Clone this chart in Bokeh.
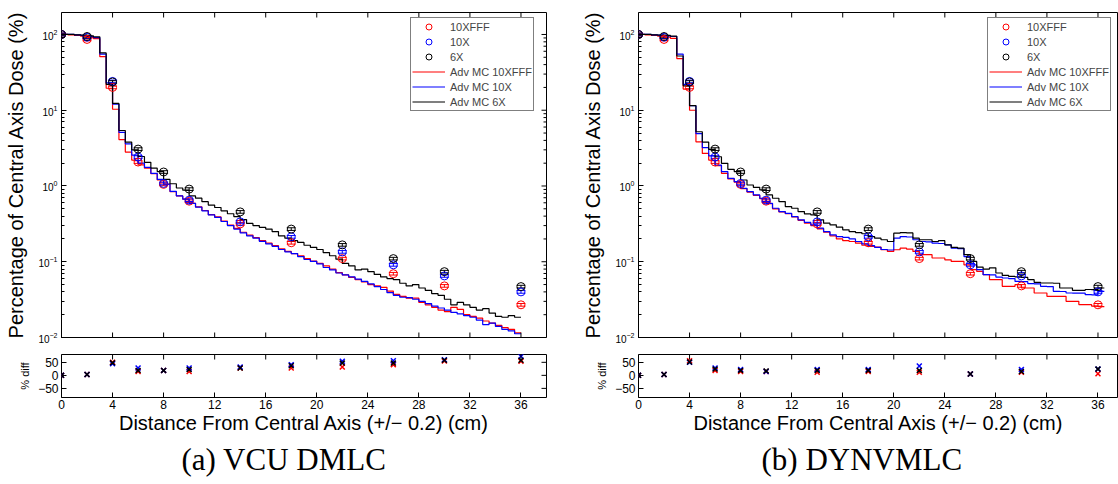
import numpy as np
from bokeh.plotting import figure
from bokeh.models import (ColumnDataSource, Whisker, TeeHead, Legend, LegendItem,
                          FixedTicker, Range1d, Title)
from bokeh.layouts import row, column
from bokeh.embed import file_html
from bokeh.resources import INLINE

FONT = "Liberation Sans"
SERIF = "Liberation Serif"
RED, BLUE, BLACK = "#ff0000", "#0000ff", "#000000"

# ---------------- data ----------------
x_ticks = [0, 4, 8, 12, 16, 20, 24, 28, 32, 36]
x_meas = [0, 2, 4, 6, 8, 10, 14, 18, 22, 26, 30, 36]
meas_10xfff = [100, 86, 20, 2.07, 1.05, 0.63, 0.316, 0.178, 0.11, 0.0695, 0.048, 0.027]
meas_10x = [100, 92, 24, 2.41, 1.08, 0.65, 0.336, 0.213, 0.135, 0.091, 0.065, 0.040]
meas_6x = [100, 94, 23.6, 3.07, 1.53, 0.91, 0.455, 0.27, 0.167, 0.11, 0.074, 0.047]
meas_rel_err = 0.04

bin_width = 0.5  # MC histogram bins (cm), starting at 0

# (a) VCU DMLC  Monte Carlo
mc_a_10xfff = [100, 99, 97, 95, 91, 88, 51, 19.5, 10.3, 4.1,
               2.8, 2.2, 1.9, 1.72, 1.45, 1.2, 1.05, 0.84, 0.74, 0.67,
               0.59, 0.53, 0.475, 0.42, 0.39, 0.345, 0.305, 0.275, 0.245, 0.225,
               0.208, 0.19, 0.176, 0.163, 0.148, 0.137, 0.128, 0.12, 0.11, 0.102,
               0.095, 0.088, 0.08, 0.072, 0.067, 0.062, 0.058, 0.054, 0.05, 0.048,
               0.046, 0.041, 0.037, 0.035, 0.033, 0.033, 0.029, 0.027, 0.025, 0.023,
               0.022, 0.025, 0.0235, 0.02, 0.019, 0.018, 0.0165, 0.0155, 0.0145, 0.0135,
               0.0128, 0.0115]
mc_a_10x = [100, 100, 99, 97, 94, 91, 55, 23, 12, 5.1,
            3.6, 2.55, 2.0, 1.76, 1.47, 1.22, 1.06, 0.85, 0.74, 0.67,
            0.59, 0.525, 0.47, 0.415, 0.385, 0.34, 0.30, 0.27, 0.24, 0.22,
            0.205, 0.186, 0.172, 0.16, 0.145, 0.135, 0.128, 0.117, 0.107, 0.101,
            0.094, 0.084, 0.078, 0.071, 0.067, 0.063, 0.059, 0.055, 0.051, 0.047,
            0.043, 0.039, 0.036, 0.034, 0.0335, 0.032, 0.030, 0.028, 0.026, 0.0245,
            0.023, 0.0215, 0.0205, 0.0195, 0.0185, 0.017, 0.0148, 0.0155, 0.014, 0.0128,
            0.0122, 0.0112]
mc_a_6x = [100, 100, 99, 98, 96, 93, 57, 22, 12.3, 5.4,
           3.8, 3.0, 2.45, 2.05, 1.72, 1.55, 1.22, 1.07, 0.94, 0.88,
           0.74, 0.69, 0.62, 0.56, 0.52, 0.47, 0.43, 0.395, 0.36, 0.32,
           0.30, 0.285, 0.27, 0.25, 0.22, 0.205, 0.19, 0.18, 0.165, 0.155,
           0.145, 0.132, 0.12, 0.108, 0.095, 0.088, 0.078, 0.08, 0.074, 0.068,
           0.063, 0.06, 0.058, 0.052, 0.048, 0.05, 0.045, 0.042, 0.038, 0.036,
           0.032, 0.027, 0.029, 0.027, 0.025, 0.023, 0.024, 0.021, 0.019, 0.0185,
           0.0195, 0.0185]

# (b) DYNVMLC  Monte Carlo
mc_b_10xfff = [100, 99, 97, 95, 92, 89, 48, 19, 10, 3.83,
               2.69, 2.2, 1.85, 1.47, 1.24, 1.12, 0.92, 0.83, 0.75, 0.68,
               0.585, 0.5, 0.455, 0.43, 0.39, 0.352, 0.323, 0.3, 0.272, 0.245,
               0.22, 0.2, 0.19, 0.185, 0.176, 0.165, 0.16, 0.156, 0.144, 0.137,
               0.144, 0.151, 0.147, 0.137, 0.124, 0.124, 0.112, 0.112, 0.106, 0.101,
               0.101, 0.091, 0.0785, 0.0746, 0.0675, 0.058, 0.058, 0.0473, 0.0473, 0.0498,
               0.045, 0.045, 0.0387, 0.0387, 0.035, 0.035, 0.035, 0.030, 0.030, 0.0272,
               0.0272, 0.026, 0.0255]
mc_b_10x = [100, 100, 99, 98, 96, 94, 55, 22, 11.5, 4.9,
            3.2, 2.5, 1.89, 1.55, 1.26, 1.14, 0.93, 0.84, 0.762, 0.689,
            0.591, 0.508, 0.459, 0.436, 0.394, 0.357, 0.33, 0.307, 0.277, 0.25,
            0.226, 0.215, 0.21, 0.2, 0.185, 0.172, 0.163, 0.155, 0.145, 0.143,
            0.205, 0.215, 0.212, 0.195, 0.185, 0.183, 0.176, 0.174, 0.167, 0.151,
            0.149, 0.117, 0.091, 0.0785, 0.0675, 0.067, 0.0628, 0.061, 0.06, 0.055,
            0.0545, 0.0513, 0.051, 0.0473, 0.047, 0.0407, 0.0405, 0.0387, 0.0385, 0.0385,
            0.0368, 0.0366, 0.0407]
mc_b_6x = [100, 100, 99, 98, 97, 95, 52, 21, 11.5, 5.2,
           3.8, 3.04, 2.43, 1.99, 1.66, 1.55, 1.2, 1.03, 0.96, 0.886,
           0.762, 0.689, 0.622, 0.535, 0.508, 0.459, 0.428, 0.415, 0.357, 0.323,
           0.307, 0.286, 0.264, 0.25, 0.243, 0.234, 0.215, 0.205, 0.195, 0.185,
           0.238, 0.243, 0.24, 0.205, 0.195, 0.195, 0.185, 0.19, 0.167, 0.155,
           0.151, 0.124, 0.101, 0.085, 0.08, 0.083, 0.071, 0.066, 0.064, 0.063,
           0.062, 0.058, 0.0535, 0.0524, 0.0524, 0.052, 0.045, 0.045, 0.042, 0.042,
           0.043, 0.0428, 0.045]

# % diff panels
diff_a_10xfff = [0, 3, 50, 15, 19, 15, 28, 28, 32, 41, 55, 54]
diff_a_10x = [0, 3, 45, 28, 19, 28, 32, 41, 54, 56, 60, 73]
diff_a_6x = [0, 3, 48, 19, 19, 22, 28, 37, 47, 47, 58, 58]
diff_b_10xfff = [0, 3, 56, 19, 15, 15, 12, 15, 12, 5, 12, 6]
diff_b_10x = [0, 3, 50, 28, 22, 15, 22, 22, 36, 5, 22, 24]
diff_b_6x = [0, 3, 51, 24, 19, 17, 19, 19, 19, 5, 15, 24]

diff_ticks = [-50, 0, 50]
legend_labels = ["10XFFF", "10X", "6X", "Adv MC 10XFFF", "Adv MC 10X", "Adv MC 6X"]
y_label = "Percentage of Central Axis Dose (%)"
x_label = "Distance From Central Axis (+/\u2212 0.2) (cm)"
captions = ["(a) VCU DMLC", "(b) DYNVMLC"]

Y_MIN, Y_MAX = 0.01, 195
D_MIN, D_MAX = -85, 80
log_major = [1e-2, 1e-1, 1e0, 1e1, 1e2]
log_minor = [m * 10.0 ** e for e in range(-2, 2) for m in range(2, 10)]


def style_axis(ax, size):
    ax.major_tick_in = 5
    ax.major_tick_out = 0
    ax.minor_tick_in = 3
    ax.minor_tick_out = 0
    ax.axis_line_color = "black"
    ax.axis_line_width = 1
    ax.major_tick_line_color = "black"
    ax.minor_tick_line_color = "black"
    ax.major_label_text_font = FONT
    ax.major_label_text_font_size = size
    ax.major_label_text_color = "black"
    ax.axis_label_text_font = FONT
    ax.axis_label_text_font_style = "normal"
    ax.axis_label_text_color = "black"


def edge_ticks(p, xs=None, x_at=None, ys=None, y_at=None, size=10):
    # inward tick marks on frame edges; half of each centred dash is clipped by the frame
    if xs is not None:
        p.scatter(xs, [y_at] * len(xs), marker="dash", angle=np.pi / 2, size=size,
                  line_color="black", line_width=1)
    if ys is not None:
        p.scatter([x_at] * len(ys), ys, marker="dash", angle=0, size=size,
                  line_color="black", line_width=1)


def main_panel(mc_series, frame_w, b_left, b_right, x_end):
    p = figure(frame_width=frame_w, frame_height=325, y_axis_type="log",
               x_range=Range1d(0, x_end), y_range=Range1d(Y_MIN, Y_MAX),
               min_border_left=b_left, min_border_right=b_right,
               min_border_top=12, min_border_bottom=10,
               output_backend="svg", toolbar_location=None)
    p.grid.visible = False
    p.outline_line_color = "black"
    p.outline_line_width = 1
    p.outline_line_alpha = 1
    p.xaxis.visible = False

    ya = p.yaxis[0]
    style_axis(ya, "10px")
    ya.axis_line_color = None
    ya.axis_label = y_label
    ya.axis_label_text_font_size = "20px"
    ya.axis_label_standoff = 8
    ya.major_label_standoff = 4

    line_rs = []
    for vals, col in zip(mc_series, [RED, BLUE, BLACK]):
        edges = np.arange(len(vals) + 1) * bin_width
        yv = list(vals) + [vals[-1]]
        r = p.step(edges, yv, mode="after", line_color=col, line_width=1.2)
        line_rs.append(r)

    circ_rs = []
    for vals, col in zip([meas_10xfff, meas_10x, meas_6x], [RED, BLUE, BLACK]):
        v = np.array(vals)
        src = ColumnDataSource(dict(x=x_meas, y=v, lo=v * (1 - meas_rel_err),
                                    up=v * (1 + meas_rel_err)))
        w = Whisker(base="x", upper="up", lower="lo", source=src, line_color=col, line_width=1,
                    upper_head=TeeHead(size=9, line_color=col, line_width=1),
                    lower_head=TeeHead(size=9, line_color=col, line_width=1))
        p.add_layout(w)
        r = p.scatter("x", "y", source=src, marker="circle", size=8, fill_color=None,
                      line_color=col, line_width=1)
        circ_rs.append(r)

    # frame tick marks (bottom, top, right)
    edge_ticks(p, xs=x_ticks, y_at=Y_MIN, size=10)
    edge_ticks(p, xs=x_ticks, y_at=Y_MAX, size=10)
    if b_right > 0:
        edge_ticks(p, ys=log_major, x_at=x_end, size=10)
        edge_ticks(p, ys=log_minor, x_at=x_end, size=6)

    items = [LegendItem(label=lab, renderers=[r])
             for lab, r in zip(legend_labels, circ_rs + line_rs)]
    leg = Legend(items=items, location=(349, 226), label_text_font=FONT,
                 label_text_font_size="11px", glyph_width=33, glyph_height=15,
                 label_height=15, spacing=0, padding=1, margin=0, label_standoff=5,
                 border_line_color="black", border_line_width=1.2,
                 background_fill_color="white", background_fill_alpha=1)
    p.add_layout(leg)
    return p


def diff_panel(diffs, frame_w, b_left, b_right, x_end, caption, cap_offset):
    d = figure(frame_width=frame_w, frame_height=43,
               x_range=Range1d(0, x_end), y_range=Range1d(D_MIN, D_MAX),
               min_border_left=b_left, min_border_right=b_right,
               min_border_top=7, min_border_bottom=87,
               output_backend="svg", toolbar_location=None)
    d.grid.visible = False
    d.outline_line_color = "black"
    d.outline_line_width = 1
    xa = d.xaxis[0]
    xa.ticker = FixedTicker(ticks=x_ticks, minor_ticks=[])
    style_axis(xa, "12px")
    xa.axis_line_color = None
    xa.major_label_standoff = 2
    xa.axis_label = x_label
    xa.axis_label_text_font_size = "20px"
    xa.axis_label_standoff = 0
    ya = d.yaxis[0]
    ya.ticker = FixedTicker(ticks=diff_ticks, minor_ticks=[])
    style_axis(ya, "12px")
    ya.axis_line_color = None
    ya.major_label_overrides = {-50: "\u221250", 0: "0", 50: "50"}
    ya.major_label_standoff = 3
    ya.axis_label = "% diff"
    ya.axis_label_text_font_size = "11px"
    ya.axis_label_standoff = 4

    for vals, col in zip(diffs, [RED, BLUE, BLACK]):
        d.scatter(x_meas, vals, marker="x", size=7, line_color=col, line_width=1.5)

    edge_ticks(d, xs=x_ticks, y_at=D_MAX, size=10)
    if b_right > 0:
        edge_ticks(d, ys=diff_ticks, x_at=x_end, size=10)

    t = Title(text=caption, align="left", offset=cap_offset, text_font=SERIF,
              text_font_size="31px", text_font_style="normal", text_color="black",
              standoff=7)
    d.add_layout(t, "below")
    return d


xa_end_left = 38
xa_end_right = 38 * 480 / 485

pa = main_panel([mc_a_10xfff, mc_a_10x, mc_a_6x], 485, 61, 14, xa_end_left)
da = diff_panel([diff_a_10xfff, diff_a_10x, diff_a_6x], 485, 61, 14, xa_end_left, captions[0], 120)
pb = main_panel([mc_b_10xfff, mc_b_10x, mc_b_6x], 480, 78, 0, xa_end_right)
db = diff_panel([diff_b_10xfff, diff_b_10x, diff_b_6x], 480, 78, 0, xa_end_right, captions[1], 123)

layout = row(column(pa, da, spacing=0), column(pb, db, spacing=0), spacing=0)

with open("out.html", "w") as f:
    f.write(file_html(layout, INLINE))
